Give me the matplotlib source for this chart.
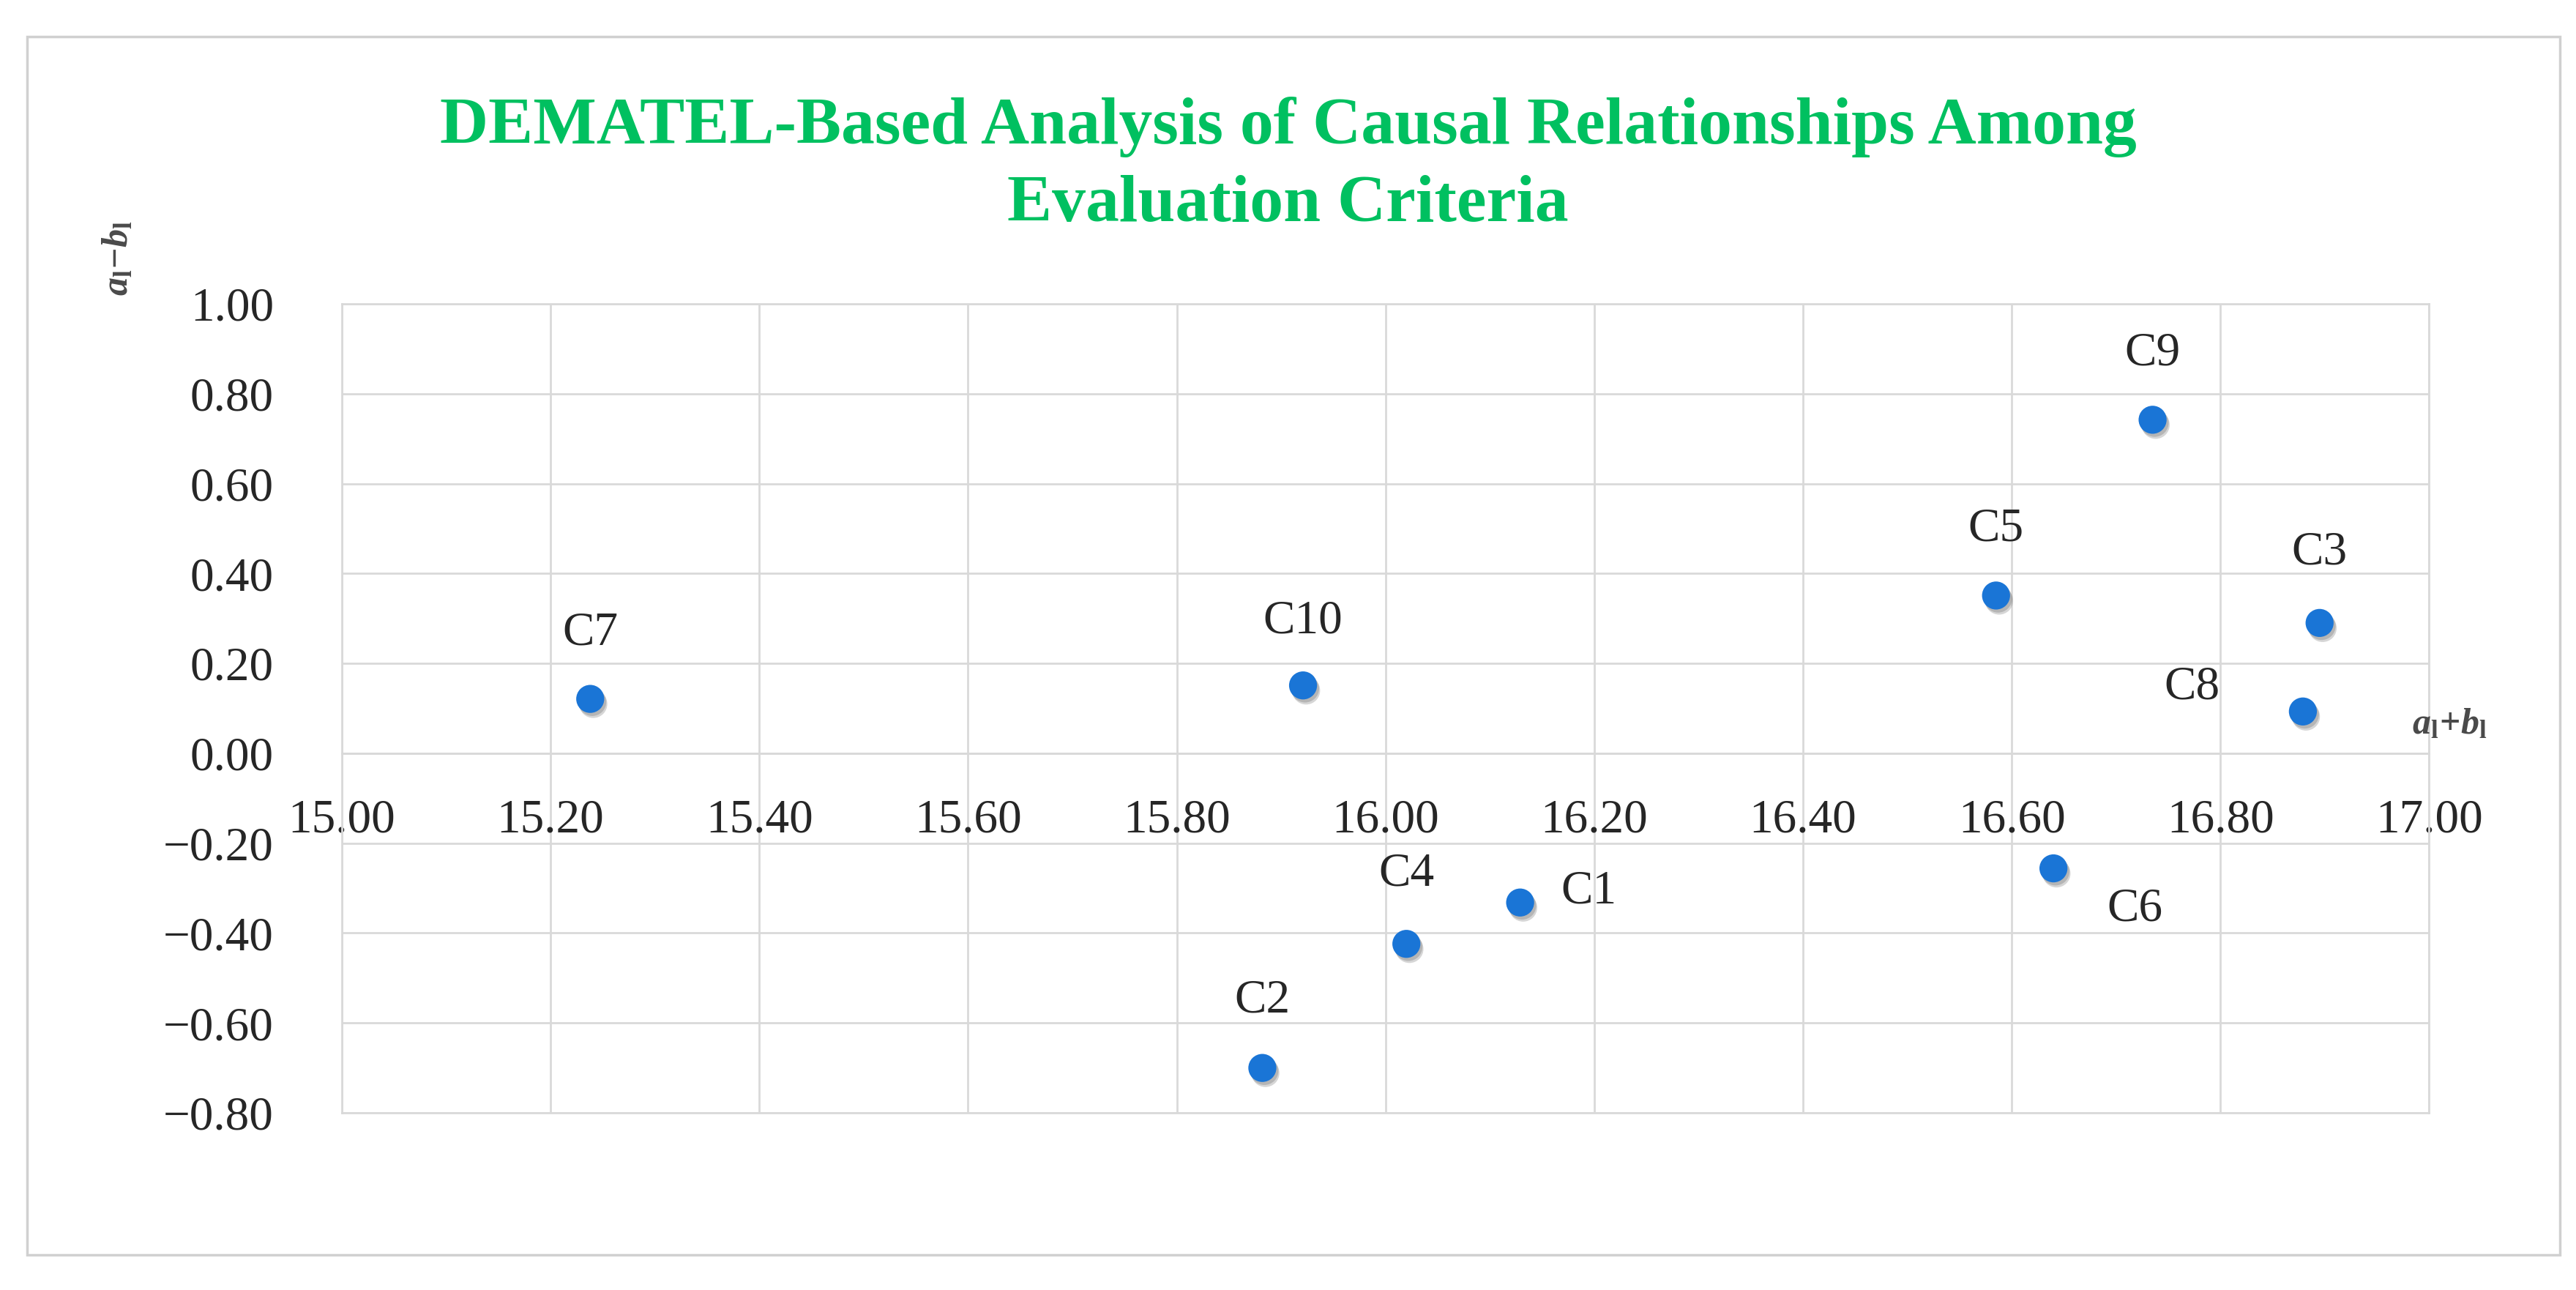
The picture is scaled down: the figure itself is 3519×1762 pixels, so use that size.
import matplotlib
matplotlib.use("Agg")
import matplotlib.pyplot as plt
from matplotlib import patheffects as pe
from matplotlib.patches import Rectangle

# criteria and their (a_i + b_i, a_i - b_i) coordinates
labels = ["C1", "C2", "C3", "C4", "C5", "C6", "C7", "C8", "C9", "C10"]
sum_ab = [16.129, 15.882, 16.895, 16.020, 16.585, 16.640, 15.238, 16.879, 16.735, 15.921]
diff_ab = [-0.332, -0.700, 0.290, -0.424, 0.351, -0.256, 0.121, 0.093, 0.742, 0.151]

x_ticks = [15.0, 15.2, 15.4, 15.6, 15.8, 16.0, 16.2, 16.4, 16.6, 16.8, 17.0]
x_ticklabels = ["15.00", "15.20", "15.40", "15.60", "15.80", "16.00",
                "16.20", "16.40", "16.60", "16.80", "17.00"]
y_ticks = [1.0, 0.8, 0.6, 0.4, 0.2, 0.0, -0.2, -0.4, -0.6, -0.8]
y_ticklabels = ["1.00", "0.80", "0.60", "0.40", "0.20", "0.00",
                "\u22120.20", "\u22120.40", "\u22120.60", "\u22120.80"]

title_lines = ["DEMATEL-Based Analysis of Causal Relationships Among",
               "Evaluation Criteria"]

# label offset from its point, in points (centre of the text)
label_pos = {
    "C1": (40, 11, "left"),
    "C2": (0, 66, "center"),
    "C3": (0, 69, "center"),
    "C4": (0, 69, "center"),
    "C5": (0, 65, "center"),
    "C6": (53, -40, "left"),
    "C7": (0, 65, "center"),
    "C8": (-82, 24, "right"),
    "C9": (0, 65, "center"),
    "C10": (0, 63, "center"),
}

plt.rcParams["font.family"] = ["Liberation Serif", "DejaVu Serif"]
plt.rcParams["mathtext.fontset"] = "custom"
plt.rcParams["mathtext.it"] = "Liberation Serif:italic:bold"
plt.rcParams["mathtext.rm"] = "Liberation Serif:bold"

grid_col = "#d9d9d9"
txt_col = "#262626"

fig = plt.figure(figsize=(35.19, 17.62), dpi=100)
fig.patches.append(Rectangle((0.0105, 0.0272), 0.9832, 0.9444, transform=fig.transFigure,
                             fill=False, edgecolor="#d0d0d0", linewidth=2.5))

ax = fig.add_axes([0.1327, 0.1373, 0.8103, 0.6272])
ax.set_xlim(15.0, 17.0)
ax.set_ylim(-0.8, 1.0)
ax.set_xticks(x_ticks)
ax.set_xticklabels(x_ticklabels)
ax.set_yticks(y_ticks)
ax.set_yticklabels(y_ticklabels)
ax.grid(True, color=grid_col, linewidth=2)
ax.set_axisbelow(True)
for side in ["left", "right", "top"]:
    ax.spines[side].set_color(grid_col)
    ax.spines[side].set_linewidth(2)
ax.spines["bottom"].set_position(("data", 0))
ax.spines["bottom"].set_color(grid_col)
ax.spines["bottom"].set_linewidth(2)
ax.axhline(-0.8, color=grid_col, linewidth=2, clip_on=False, zorder=0)
ax.tick_params(axis="both", length=0, labelsize=47, colors=txt_col)
ax.tick_params(axis="x", pad=45)
ax.tick_params(axis="y", pad=67)

shadow = [pe.SimplePatchShadow(offset=(3, -5), shadow_rgbFace="#8a8a8a", alpha=0.35),
          pe.SimplePatchShadow(offset=(2, -3), shadow_rgbFace="#6a6a6a", alpha=0.3),
          pe.Normal()]
ax.scatter(sum_ab, diff_ab, s=760, color="#1a75d6", edgecolors="none", zorder=3,
           path_effects=shadow)

for name, x, y in zip(labels, sum_ab, diff_ab):
    dx, dy, ha = label_pos[name]
    ax.annotate(name, (x, y), xytext=(dx, dy), textcoords="offset points",
                ha=ha, va="center", fontsize=47, color=txt_col)

for line, yb in zip(title_lines, [0.889, 0.8286]):
    fig.text(0.5, yb, line, ha="center", va="baseline", fontsize=66, fontweight="bold",
             color="#00c060")
fig.text(0.046, 0.80, r"$a_{\mathrm{l}}\!-\!b_{\mathrm{l}}$", rotation=90, ha="center", va="center",
         fontsize=36, color="#4a4a4a")
fig.text(0.951, 0.438, r"$a_{\mathrm{l}}\!+\!b_{\mathrm{l}}$", ha="center", va="center",
         fontsize=36, color="#4a4a4a")

fig.savefig("out.png", dpi=100)
